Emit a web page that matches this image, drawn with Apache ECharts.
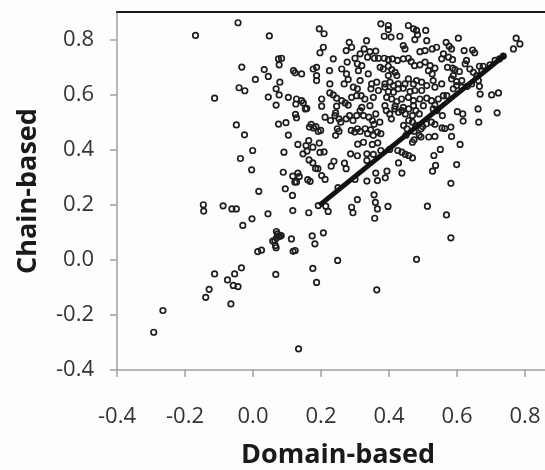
<!DOCTYPE html>
<html>
<head>
<meta charset="utf-8">
<script src="https://cdn.jsdelivr.net/npm/echarts@6/dist/echarts.min.js"></script>
<style>
html,body{margin:0;padding:0;background:#fdfdfd;}
#c{width:545px;height:470px;}
</style>
</head>
<body>
<div id="c"></div>
<script>
// [Domain-based, Chain-based] pairs
var leftAndLowerPoints = [
[-0.044,0.861],[-0.169,0.815],[0.048,0.813],[-0.033,0.700],[0.033,0.691],[0.045,0.666],[0.007,0.655],[-0.041,0.625],
[-0.024,0.614],[-0.113,0.587],[0.045,0.591],[0.154,0.548],[0.718,0.534],[0.662,0.548],[0.664,0.500],[0.617,0.530],[0.618,0.504],
[0.125,0.528],[0.128,0.516],[0.097,0.498],[0.075,0.493],[-0.049,0.490],[-0.025,0.454],[0.104,0.453],[0.166,0.482],[0.171,0.492],
[0.178,0.479],[0.185,0.484],[0.192,0.466],[0.199,0.470],[0.212,0.518],[0.228,0.506],[0.241,0.524],[0.243,0.534],[0.253,0.512],
[0.258,0.500],[0.248,0.476],[0.253,0.467],[0.243,0.452],[0.274,0.512],[0.284,0.524],[0.294,0.506],[0.305,0.524],[0.315,0.542],
[0.325,0.524],[0.289,0.470],[0.299,0.464],[0.307,0.476],[0.315,0.466],[0.330,0.476],[0.337,0.458],[0.346,0.472],[0.354,0.452],
[0.366,0.464],[0.376,0.458],[0.341,0.518],[0.351,0.506],[0.361,0.530],[0.356,0.492],[0.373,0.500],[0.392,0.542],[0.402,0.530],
[0.407,0.512],[0.417,0.548],[0.428,0.536],[0.438,0.542],[0.448,0.530],[0.458,0.548],[0.469,0.524],[0.479,0.542],[0.489,0.530],
[0.530,0.548],[0.541,0.542],[0.458,0.506],[0.469,0.500],[0.479,0.488],[0.494,0.476],[0.499,0.484],[0.510,0.494],[0.525,0.500],
[0.535,0.492],[0.443,0.488],[0.453,0.476],[0.474,0.467],[0.489,0.452],[0.494,0.446],[0.474,0.436],[0.469,0.427],[0.556,0.479],
[0.584,0.448],[0.582,0.482],[0.535,0.448],[0.517,0.446],[-0.001,0.397],[-0.037,0.368],[-0.004,0.327],[0.017,0.249],[0.091,0.391],
[0.132,0.419],[0.164,0.433],[0.156,0.415],[0.159,0.395],[0.176,0.409],[0.195,0.424],[0.197,0.390],[0.209,0.392],[0.147,0.385],
[0.165,0.363],[0.176,0.352],[0.184,0.332],[0.191,0.331],[0.202,0.306],[0.212,0.292],[0.132,0.315],[0.136,0.303],[0.117,0.304],
[0.123,0.282],[0.089,0.318],[0.161,0.291],[0.168,0.285],[0.095,0.258],[0.116,0.234],[0.230,0.340],[0.238,0.358],[0.269,0.351],
[0.274,0.331],[0.287,0.385],[0.307,0.378],[0.335,0.361],[0.335,0.286],[0.361,0.315],[0.366,0.288],[0.389,0.298],[0.394,0.322],
[0.308,0.420],[0.325,0.427],[0.351,0.419],[0.335,0.385],[0.354,0.383],[0.367,0.425],[0.376,0.397],[0.402,0.401],[0.426,0.397],
[0.438,0.391],[0.448,0.383],[0.458,0.379],[0.469,0.370],[0.428,0.352],[0.438,0.315],[0.564,0.477],[0.532,0.379],[0.537,0.343],
[0.528,0.322],[0.551,0.401],[0.609,0.419],[0.599,0.346],[0.582,0.278],[0.513,0.195],[0.569,0.163],[0.582,0.080],[0.481,0.002],
[0.397,0.194],[0.356,0.236],[0.360,0.209],[0.366,0.185],[0.358,0.151],[0.307,0.219],[0.290,0.191],[0.294,0.171],[0.364,-0.109],
[0.249,-0.002],[0.192,0.197],[0.214,0.195],[0.221,0.176],[0.164,0.171],[0.207,0.098],[0.174,0.087],[0.182,0.058],[0.176,-0.031],
[0.187,-0.082],[0.134,-0.323],[0.113,0.076],[0.118,0.031],[0.124,0.034],[0.069,0.103],[0.072,0.094],[0.075,0.087],[0.069,0.079],
[0.064,0.070],[0.058,0.068],[0.066,0.052],[0.068,0.044],[0.078,0.085],[0.083,0.088],[0.044,0.167],[-0.003,0.149],[-0.030,0.125],
[0.014,0.030],[0.025,0.035],[0.067,-0.053],[-0.146,0.200],[-0.145,0.177],[-0.088,0.196],[-0.062,0.185],[-0.049,0.185],
[-0.113,-0.051],[-0.129,-0.107],[-0.139,-0.136],[-0.075,-0.073],[-0.054,-0.051],[-0.034,-0.029],[-0.058,-0.093],[-0.044,-0.097],
[-0.065,-0.160],[-0.265,-0.184],[-0.292,-0.263],[0.117,0.179],[0.128,0.283],[0.601,0.538],[0.557,0.524],[0.250,0.262],
[0.300,0.292],[0.450,0.452]
];
var upperLeftPoints = [
[0.195,0.839],[0.209,0.821],[0.207,0.772],[0.197,0.752],[0.075,0.730],[0.084,0.732],[0.077,0.708],[0.119,0.687],[0.124,0.679],
[0.143,0.675],[0.177,0.693],[0.187,0.699],[0.187,0.669],[0.187,0.651],[0.225,0.687],[0.236,0.730],[0.261,0.693],[0.277,0.718],
[0.283,0.790],[0.290,0.772],[0.274,0.760],[0.300,0.732],[0.307,0.712],[0.310,0.687],[0.275,0.675],[0.280,0.655],[0.268,0.639],
[0.226,0.639],[0.079,0.645],[0.068,0.621],[0.077,0.599],[0.104,0.590],[0.128,0.584],[0.143,0.578],[0.148,0.570],[0.126,0.566],
[0.068,0.562],[0.158,0.550],[0.202,0.584],[0.226,0.606],[0.236,0.599],[0.246,0.587],[0.261,0.578],[0.271,0.570],[0.290,0.590],
[0.305,0.596],[0.307,0.621],[0.295,0.627],[0.202,0.558],[0.246,0.558],[0.280,0.562]
];
var upperMiddlePoints = [
[0.376,0.857],[0.398,0.851],[0.398,0.836],[0.457,0.851],[0.472,0.839],[0.481,0.833],[0.508,0.833],[0.484,0.817],[0.386,0.812],
[0.406,0.809],[0.432,0.812],[0.334,0.796],[0.476,0.800],[0.511,0.796],[0.442,0.778],[0.447,0.766],[0.491,0.756],[0.506,0.760],
[0.527,0.766],[0.540,0.772],[0.327,0.766],[0.344,0.756],[0.361,0.758],[0.315,0.748],[0.337,0.736],[0.357,0.732],[0.369,0.732],
[0.386,0.732],[0.398,0.727],[0.410,0.730],[0.425,0.724],[0.442,0.730],[0.457,0.732],[0.465,0.720],[0.475,0.705],[0.491,0.708],
[0.506,0.718],[0.521,0.705],[0.535,0.696],[0.374,0.699],[0.383,0.693],[0.398,0.703],[0.408,0.691],[0.418,0.681],[0.423,0.669],
[0.398,0.669],[0.339,0.675],[0.315,0.651],[0.320,0.705],[0.516,0.687],[0.527,0.675],[0.530,0.651],[0.496,0.645],[0.481,0.651],
[0.472,0.639],[0.457,0.657],[0.447,0.639],[0.427,0.639],[0.413,0.633],[0.403,0.645],[0.388,0.639],[0.364,0.645],[0.349,0.639],
[0.347,0.621],[0.369,0.615],[0.388,0.627],[0.398,0.611],[0.413,0.609],[0.427,0.621],[0.442,0.623],[0.462,0.611],[0.476,0.615],
[0.496,0.615],[0.511,0.633],[0.535,0.627],[0.318,0.596],[0.329,0.584],[0.354,0.590],[0.393,0.590],[0.408,0.584],[0.423,0.575],
[0.437,0.584],[0.457,0.590],[0.472,0.578],[0.491,0.584],[0.511,0.587],[0.525,0.578],[0.545,0.584],[0.320,0.554],[0.344,0.560],
[0.388,0.560],[0.418,0.558],[0.442,0.554],[0.472,0.560],[0.501,0.560],[0.535,0.562]
];
var upperRightPoints = [
[0.604,0.805],[0.568,0.790],[0.577,0.776],[0.584,0.766],[0.560,0.748],[0.575,0.736],[0.587,0.727],[0.555,0.730],[0.621,0.760],
[0.646,0.762],[0.652,0.752],[0.628,0.724],[0.624,0.712],[0.572,0.699],[0.587,0.696],[0.594,0.691],[0.607,0.684],[0.589,0.669],
[0.584,0.657],[0.599,0.647],[0.614,0.651],[0.638,0.693],[0.648,0.681],[0.666,0.703],[0.677,0.703],[0.673,0.687],[0.658,0.669],
[0.663,0.651],[0.643,0.639],[0.630,0.630],[0.614,0.627],[0.599,0.633],[0.589,0.621],[0.555,0.639],[0.560,0.596],[0.570,0.596],
[0.666,0.630],[0.668,0.602],[0.702,0.599],[0.722,0.606],[0.774,0.805],[0.785,0.784],[0.766,0.766],[0.712,0.724],[0.725,0.730],
[0.736,0.740],[0.697,0.708]
];
// Fitted line end points
var fitX = [0.195, 0.742];
var fitY = [0.198, 0.745];
// Axis ticks
var xTicks = [-0.4, -0.2, 0.0, 0.2, 0.4, 0.6, 0.8];
var yTicks = [-0.4, -0.2, 0.0, 0.2, 0.4, 0.6, 0.8];

var pts = leftAndLowerPoints.concat(upperLeftPoints, upperMiddlePoints, upperRightPoints);
var linePts = fitX.map(function (x, i) { return [x, fitY[i]]; });

function fmt(ticks) {
  return function (v) {
    for (var i = 0; i < ticks.length; i++) {
      if (Math.abs(ticks[i] - v) < 1e-6) return ticks[i].toFixed(1);
    }
    return '';
  };
}

var chart = echarts.init(document.getElementById('c'), null, {renderer: 'canvas'});
var font = "'Open Sans', 'Noto Sans', sans-serif";
chart.setOption({
  backgroundColor: '#fdfdfd',
  animation: false,
  grid: {left: 117, top: 12, right: -14, bottom: 100, containLabel: false, outerBoundsMode: 'none'},
  xAxis: [{
    type: 'value', min: -0.4, max: 0.9, interval: 0.2,
    name: 'Domain-based', nameLocation: 'middle', nameGap: 72,
    nameTextStyle: {fontFamily: font, fontWeight: 'bold', fontSize: 27, color: '#1a1a1a'},
    axisLine: {show: true, onZero: false, lineStyle: {color: '#a0a0a0', width: 1.5}},
    axisTick: {show: true, length: 7, lineStyle: {color: '#a0a0a0', width: 1.5}},
    axisLabel: {margin: 36, fontFamily: font, fontSize: 22, color: '#333', formatter: fmt(xTicks), showMaxLabel: false},
    splitLine: {show: false}
  }, {
    type: 'value', position: 'top', min: -0.4, max: 0.9,
    axisLine: {show: true, onZero: false, lineStyle: {color: '#1a1a1a', width: 2}},
    axisTick: {show: false}, axisLabel: {show: false}, splitLine: {show: false}
  }],
  yAxis: {
    type: 'value', min: -0.4, max: 0.9, interval: 0.2,
    name: 'Chain-based', nameLocation: 'middle', nameGap: 75,
    nameTextStyle: {fontFamily: font, fontWeight: 'bold', fontSize: 27, color: '#1a1a1a'},
    axisLine: {show: true, onZero: false, lineStyle: {color: '#a0a0a0', width: 1.5}},
    axisTick: {show: true, length: 7, lineStyle: {color: '#a0a0a0', width: 1.5}},
    axisLabel: {margin: 23, padding: [5, 0, 0, 0], fontFamily: font, fontSize: 22, color: '#333', formatter: fmt(yTicks), showMaxLabel: false},
    splitLine: {show: false}
  },
  series: [{
    type: 'scatter',
    data: pts,
    symbol: 'circle',
    symbolSize: 5.5,
    itemStyle: {color: 'rgba(0,0,0,0)', borderColor: '#1e1e1e', borderWidth: 1.7, opacity: 1},
    emphasis: {disabled: true}
  }, {
    type: 'line',
    data: linePts,
    symbol: 'none',
    lineStyle: {color: '#111', width: 5},
    z: 3
  }]
});
</script>
</body>
</html>
